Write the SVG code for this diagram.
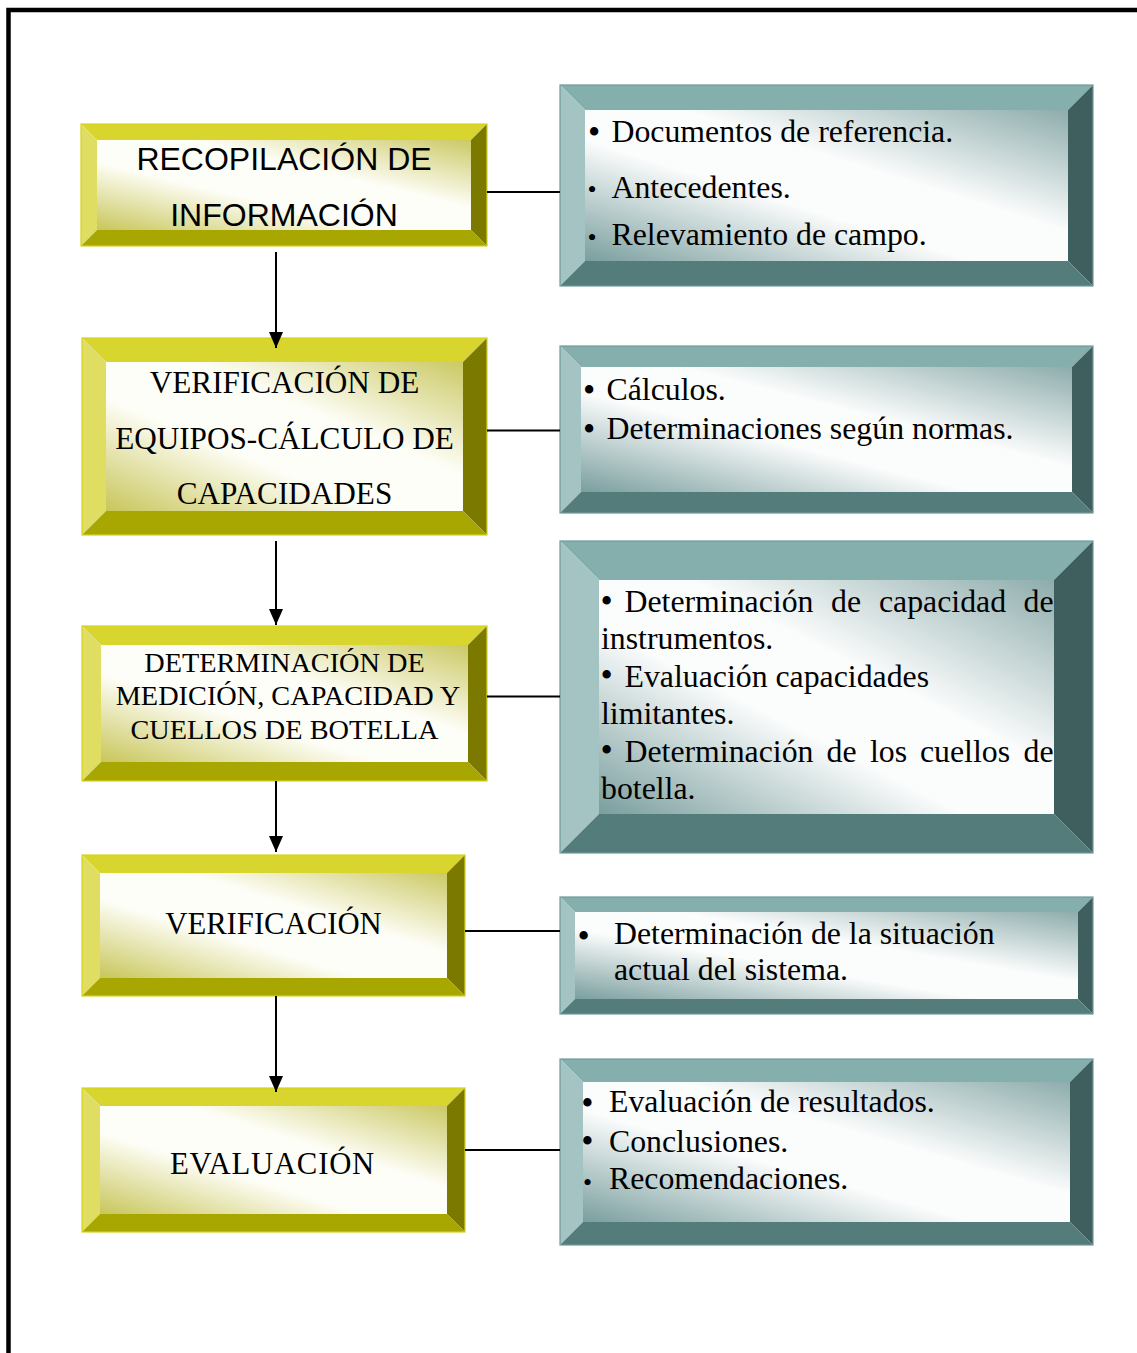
<svg xmlns="http://www.w3.org/2000/svg" width="1137" height="1353" viewBox="0 0 1137 1353">
<style>
.yt{fill:#d8d52f}.yl{fill:#e0de62}.yr{fill:#7b7900}.yb{fill:#a8a600}
.yo{fill:none;stroke:#d6d21a;stroke-width:1.2}
.tt{fill:#85afad}.tl{fill:#a4c4c3}.tr{fill:#3f5f5e}.tb{fill:#537c7a}
.to{fill:none;stroke:#6f9a98;stroke-width:1.2}
.ya{font-family:"Liberation Sans",Arial,sans-serif;font-size:32px;fill:#000;text-anchor:middle}
.ys{font-family:"Liberation Serif","Times New Roman",serif;fill:#000;text-anchor:middle}
.ts{font-family:"Liberation Serif","Times New Roman",serif;font-size:31.8px;fill:#000}
.bb{font-family:"Liberation Serif","Times New Roman",serif;font-size:35px;fill:#000}
.bs{font-family:"Liberation Serif","Times New Roman",serif;font-size:26px;fill:#000}
.con{stroke:#000;stroke-width:2;fill:none}
</style>
<defs>
<linearGradient id="gy" x1="0" y1="1" x2="1" y2="0">
<stop offset="0" stop-color="#c8c65a"/>
<stop offset="0.38" stop-color="#fefef8"/>
<stop offset="0.62" stop-color="#fefef8"/>
<stop offset="1" stop-color="#cbc964"/>
</linearGradient>
<linearGradient id="gt" x1="0" y1="1" x2="1" y2="0">
<stop offset="0" stop-color="#7a9e9e"/>
<stop offset="0.4" stop-color="#fbfcfc"/>
<stop offset="0.6" stop-color="#fbfcfc"/>
<stop offset="1" stop-color="#8eacac"/>
</linearGradient>
<marker id="ah" markerUnits="userSpaceOnUse" markerWidth="16" markerHeight="14" refX="16" refY="7" orient="auto">
<path d="M0,0 L16,7 L0,14 Z" fill="#000"/>
</marker>
</defs>
<rect width="1137" height="1353" fill="#fff"/>
<path d="M8.5,1360 V10 H1145" fill="none" stroke="#000" stroke-width="4.5"/>

<g id="recopilacion">
<polygon class="yt" points="81,124 487,124 471,140 97,140"/>
<polygon class="yl" points="81,124 97,140 97,230 81,246"/>
<polygon class="yr" points="487,124 487,246 471,230 471,140"/>
<polygon class="yb" points="81,246 97,230 471,230 487,246"/>
<rect x="97" y="140" width="374" height="90" fill="url(#gy)"/>
<rect class="yo" x="81" y="124" width="406" height="122"/>
<text class="ya" x="284" y="170">RECOPILACIÓN DE</text>
<text class="ya" x="284" y="226">INFORMACIÓN</text>
</g>

<g id="verificacion-equipos">
<polygon class="yt" points="82,338 487,338 463,362 106,362"/>
<polygon class="yl" points="82,338 106,362 106,511 82,535"/>
<polygon class="yr" points="487,338 487,535 463,511 463,362"/>
<polygon class="yb" points="82,535 106,511 463,511 487,535"/>
<rect x="106" y="362" width="357" height="149" fill="url(#gy)"/>
<rect class="yo" x="82" y="338" width="405" height="197"/>
<text class="ys" font-size="31.2" x="284.5" y="393">VERIFICACIÓN DE</text>
<text class="ys" font-size="31.2" x="284.5" y="448.5">EQUIPOS-CÁLCULO DE</text>
<text class="ys" font-size="31.2" x="284.5" y="503.5">CAPACIDADES</text>
</g>

<g id="determinacion-medicion">
<polygon class="yt" points="82,626 487,626 468,645 101,645"/>
<polygon class="yl" points="82,626 101,645 101,762 82,781"/>
<polygon class="yr" points="487,626 487,781 468,762 468,645"/>
<polygon class="yb" points="82,781 101,762 468,762 487,781"/>
<rect x="101" y="645" width="367" height="117" fill="url(#gy)"/>
<rect class="yo" x="82" y="626" width="405" height="155"/>
<text class="ys" font-size="28.3" x="284.5" y="672">DETERMINACIÓN DE</text>
<text class="ys" font-size="28.3" x="288" y="705">MEDICIÓN, CAPACIDAD Y</text>
<text class="ys" font-size="28.3" x="284.5" y="738.5">CUELLOS DE BOTELLA</text>
</g>

<g id="verificacion">
<polygon class="yt" points="82,855 465,855 447,873 100,873"/>
<polygon class="yl" points="82,855 100,873 100,978 82,996"/>
<polygon class="yr" points="465,855 465,996 447,978 447,873"/>
<polygon class="yb" points="82,996 100,978 447,978 465,996"/>
<rect x="100" y="873" width="347" height="105" fill="url(#gy)"/>
<rect class="yo" x="82" y="855" width="383" height="141"/>
<text class="ys" font-size="30.7" x="273.5" y="933.5">VERIFICACIÓN</text>
</g>

<g id="evaluacion">
<polygon class="yt" points="82,1088 465,1088 447,1106 100,1106"/>
<polygon class="yl" points="82,1088 100,1106 100,1214 82,1232"/>
<polygon class="yr" points="465,1088 465,1232 447,1214 447,1106"/>
<polygon class="yb" points="82,1232 100,1214 447,1214 465,1232"/>
<rect x="100" y="1106" width="347" height="108" fill="url(#gy)"/>
<rect class="yo" x="82" y="1088" width="383" height="144"/>
<text class="ys" font-size="30.7" x="272.5" y="1173.5" letter-spacing="0.8">EVALUACIÓN</text>
</g>

<g id="detalle-recopilacion">
<polygon class="tt" points="560,85 1093,85 1068,110 585,110"/>
<polygon class="tl" points="560,85 585,110 585,261 560,286"/>
<polygon class="tr" points="1093,85 1093,286 1068,261 1068,110"/>
<polygon class="tb" points="560,286 585,261 1068,261 1093,286"/>
<rect x="585" y="110" width="483" height="151" fill="url(#gt)"/>
<rect class="to" x="560" y="85" width="533" height="201"/>
<text class="bb" x="588" y="144">•</text>
<text class="ts" x="611.5" y="142">Documentos de referencia.</text>
<text class="bs" x="587.5" y="198">•</text>
<text class="ts" x="611.5" y="198">Antecedentes.</text>
<text class="bs" x="587.5" y="245.5">•</text>
<text class="ts" x="611.5" y="245">Relevamiento de campo.</text>
</g>

<g id="detalle-verificacion-equipos">
<polygon class="tt" points="560,346 1093,346 1072,367 581,367"/>
<polygon class="tl" points="560,346 581,367 581,492 560,513"/>
<polygon class="tr" points="1093,346 1093,513 1072,492 1072,367"/>
<polygon class="tb" points="560,513 581,492 1072,492 1093,513"/>
<rect x="581" y="367" width="491" height="125" fill="url(#gt)"/>
<rect class="to" x="560" y="346" width="533" height="167"/>
<text class="bb" x="583" y="402">•</text>
<text class="ts" x="606.5" y="400">Cálculos.</text>
<text class="bb" x="583" y="441">•</text>
<text class="ts" x="606.5" y="439">Determinaciones según normas.</text>
</g>

<g id="detalle-determinacion">
<polygon class="tt" points="560,541 1093,541 1054,580 599,580"/>
<polygon class="tl" points="560,541 599,580 599,814 560,853"/>
<polygon class="tr" points="1093,541 1093,853 1054,814 1054,580"/>
<polygon class="tb" points="560,853 599,814 1054,814 1093,853"/>
<rect x="599" y="580" width="455" height="234" fill="url(#gt)"/>
<rect class="to" x="560" y="541" width="533" height="312"/>
<text class="bb" x="600.5" y="612.5">•</text>
<text class="ts" y="612"><tspan x="624.5">Determinación</tspan><tspan x="831">de</tspan><tspan x="879">capacidad</tspan><tspan x="1023.5">de</tspan></text>
<text class="ts" x="601" y="648.5">instrumentos.</text>
<text class="bb" x="600.5" y="687">•</text>
<text class="ts" x="624.5" y="686.5">Evaluación capacidades</text>
<text class="ts" x="601" y="723.5">limitantes.</text>
<text class="bb" x="600.5" y="762">•</text>
<text class="ts" y="761.5"><tspan x="624.5">Determinación</tspan><tspan x="826.5">de</tspan><tspan x="870">los</tspan><tspan x="920">cuellos</tspan><tspan x="1023.5">de</tspan></text>
<text class="ts" x="601" y="798.5">botella.</text>
</g>

<g id="detalle-verificacion">
<polygon class="tt" points="560,897 1093,897 1078,912 575,912"/>
<polygon class="tl" points="560,897 575,912 575,999 560,1014"/>
<polygon class="tr" points="1093,897 1093,1014 1078,999 1078,912"/>
<polygon class="tb" points="560,1014 575,999 1078,999 1093,1014"/>
<rect x="575" y="912" width="503" height="87" fill="url(#gt)"/>
<rect class="to" x="560" y="897" width="533" height="117"/>
<text class="bb" x="577.5" y="947.5">•</text>
<text class="ts" x="614" y="943.5">Determinación de la situación</text>
<text class="ts" x="614" y="979.5">actual del sistema.</text>
</g>

<g id="detalle-evaluacion">
<polygon class="tt" points="560,1059 1093,1059 1070,1082 583,1082"/>
<polygon class="tl" points="560,1059 583,1082 583,1222 560,1245"/>
<polygon class="tr" points="1093,1059 1093,1245 1070,1222 1070,1082"/>
<polygon class="tb" points="560,1245 583,1222 1070,1222 1093,1245"/>
<rect x="583" y="1082" width="487" height="140" fill="url(#gt)"/>
<rect class="to" x="560" y="1059" width="533" height="186"/>
<text class="bb" x="581.3" y="1115">•</text>
<text class="ts" x="609" y="1112">Evaluación de resultados.</text>
<text class="bb" x="581.3" y="1153">•</text>
<text class="ts" x="609" y="1152">Conclusiones.</text>
<text class="bs" x="583" y="1191">•</text>
<text class="ts" x="609" y="1188.5">Recomendaciones.</text>
</g>

<g id="connectors">
<line class="con" x1="487" y1="192" x2="560" y2="192"/>
<line class="con" x1="487" y1="430.5" x2="560" y2="430.5"/>
<line class="con" x1="487" y1="696.5" x2="560" y2="696.5"/>
<line class="con" x1="465" y1="931" x2="560" y2="931"/>
<line class="con" x1="465" y1="1150" x2="560" y2="1150"/>
<line class="con" x1="276" y1="252" x2="276" y2="348" marker-end="url(#ah)"/>
<line class="con" x1="276" y1="541" x2="276" y2="625" marker-end="url(#ah)"/>
<line class="con" x1="276" y1="781" x2="276" y2="852" marker-end="url(#ah)"/>
<line class="con" x1="276" y1="996" x2="276" y2="1092" marker-end="url(#ah)"/>
</g>
</svg>
